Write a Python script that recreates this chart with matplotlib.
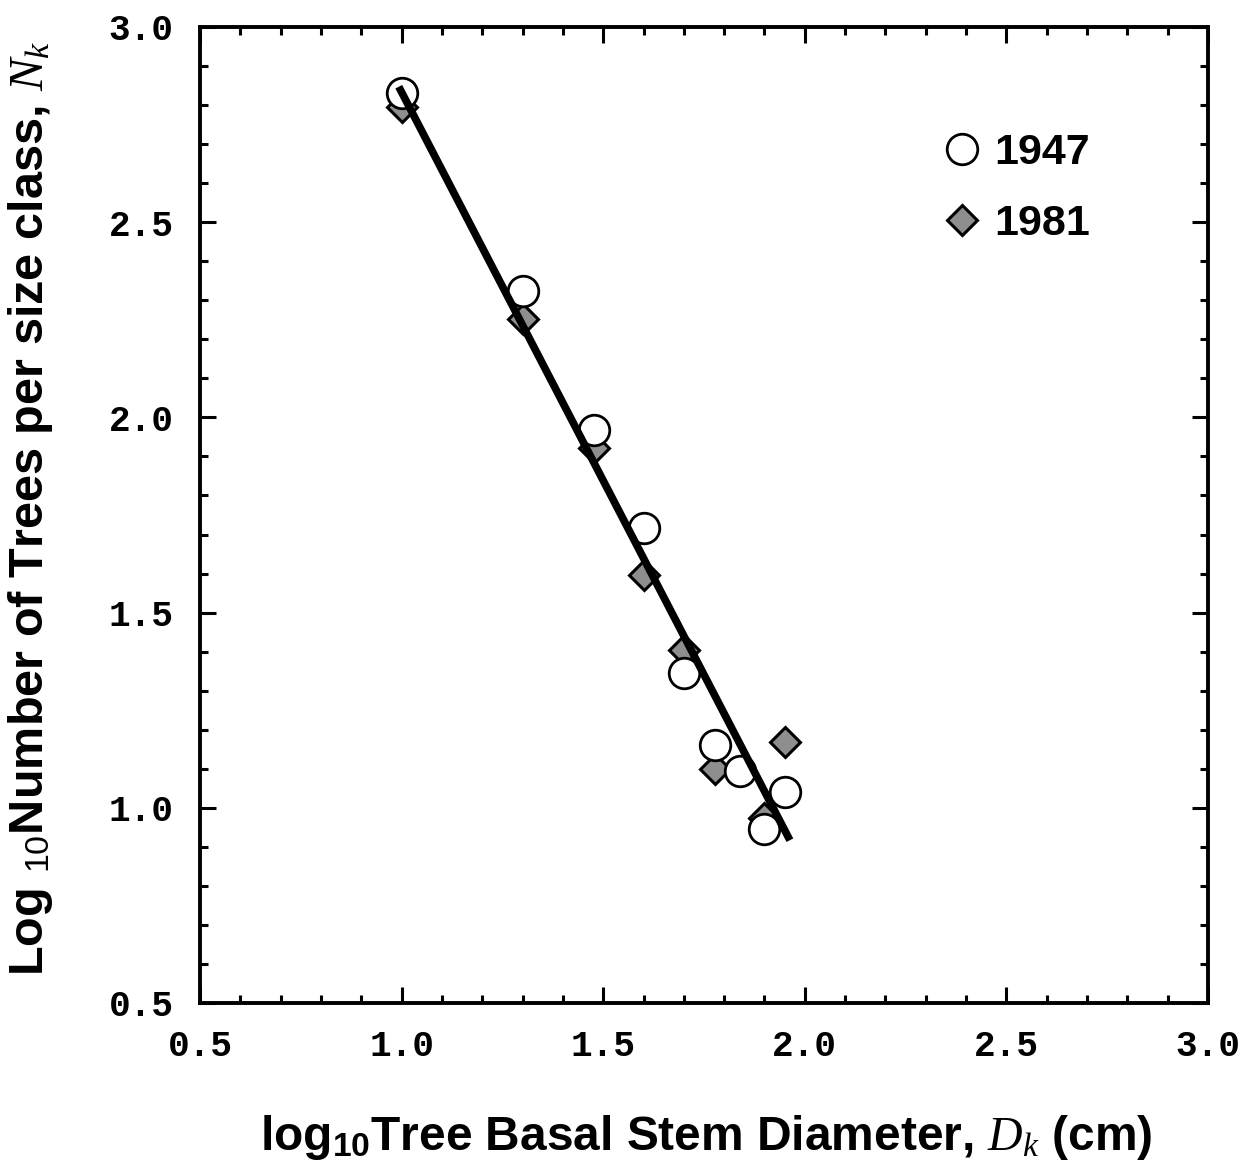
import matplotlib
matplotlib.use("Agg")
import matplotlib.pyplot as plt
from matplotlib.ticker import MultipleLocator, FormatStrFormatter

plt.rcParams['mathtext.fontset'] = 'custom'
plt.rcParams['mathtext.rm'] = 'Liberation Sans:bold'
plt.rcParams['mathtext.bf'] = 'Liberation Sans:bold'
plt.rcParams['mathtext.sf'] = 'Liberation Sans'
plt.rcParams['mathtext.it'] = 'Liberation Serif:italic'

# Data
x_1947 = [1.00, 1.30, 1.477, 1.60, 1.70, 1.778, 1.84, 1.90, 1.95]
y_1947 = [2.83, 2.325, 1.968, 1.717, 1.345, 1.161, 1.094, 0.946, 1.040]
x_1981 = [1.00, 1.30, 1.477, 1.60, 1.70, 1.778, 1.90, 1.95]
y_1981 = [2.795, 2.252, 1.922, 1.596, 1.404, 1.099, 0.974, 1.169]
fit_x = [0.993, 1.963]
fit_y = [2.847, 0.917]
xlim = (0.5, 3.0)
ylim = (0.5, 3.0)

fig = plt.figure(figsize=(12.45, 11.7), dpi=100)
ax = fig.add_axes([200/1245, 1-1003/1170, 1008/1245, 976/1170])

ax.plot(x_1981, y_1981, linestyle='none', marker='D', markersize=15.5,
        markerfacecolor='#8e8e8e', markeredgecolor='black', markeredgewidth=2.2,
        label='1981', zorder=3)
ax.plot(x_1947, y_1947, linestyle='none', marker='o', markersize=22,
        markerfacecolor='white', markeredgecolor='black', markeredgewidth=2.0,
        label='1947', zorder=4)
ax.plot(fit_x, fit_y, color='black', linewidth=5.5, solid_capstyle='butt', zorder=5)

ax.set_xlim(*xlim)
ax.set_ylim(*ylim)
ax.xaxis.set_major_locator(MultipleLocator(0.5))
ax.xaxis.set_minor_locator(MultipleLocator(0.1))
ax.yaxis.set_major_locator(MultipleLocator(0.5))
ax.yaxis.set_minor_locator(MultipleLocator(0.1))
ax.xaxis.set_major_formatter(FormatStrFormatter('%.1f'))
ax.yaxis.set_major_formatter(FormatStrFormatter('%.1f'))
ax.tick_params(which='both', direction='in', top=True, right=True, width=2.2, color='black')
ax.tick_params(which='major', length=11.5, pad=19)
ax.tick_params(which='minor', length=6)
for lab in ax.get_xticklabels() + ax.get_yticklabels():
    lab.set_fontfamily('Liberation Mono')
    lab.set_fontweight('bold')
    lab.set_fontsize(26)
for s in ax.spines.values():
    s.set_linewidth(2.8)

ax.set_xlabel(r'log$_{10}$Tree Basal Stem Diameter, $D_k$ (cm)',
              fontfamily='Liberation Sans', fontweight='bold', fontsize=34.5)
ax.set_ylabel(r'Log $_{\mathsf{10}}$Number of Trees per size class, $N_k$',
              fontfamily='Liberation Sans', fontweight='bold', fontsize=35)
ax.xaxis.set_label_coords(0.502, -0.113)
ax.yaxis.set_label_coords(-0.144, 0.507)

h, l = ax.get_legend_handles_labels()
leg = ax.legend([h[1], h[0]], [l[1], l[0]], frameon=False, loc='upper left',
                bbox_to_anchor=(0.7346, 0.8914), borderpad=0, borderaxespad=0,
                prop={'family': 'Liberation Sans', 'weight': 'bold', 'size': 31},
                handlelength=1.0, handletextpad=0.25, labelspacing=0.72, markerscale=1.0)

fig.savefig('out.png', dpi=100)
